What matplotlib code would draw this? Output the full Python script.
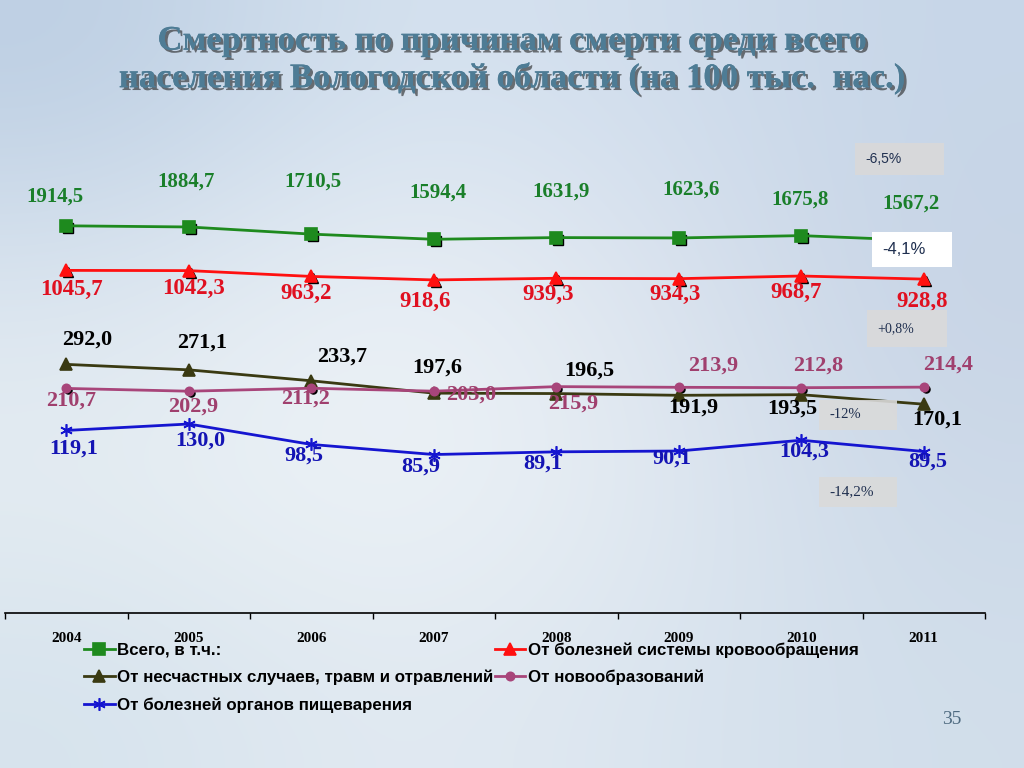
import numpy as np
import matplotlib
matplotlib.use("Agg")
import matplotlib.pyplot as plt
from matplotlib.transforms import offset_copy
import matplotlib.patheffects as pe

years = ["2004", "2005", "2006", "2007", "2008", "2009", "2010", "2011"]
total = [1914.5, 1884.7, 1710.5, 1594.4, 1631.9, 1623.6, 1675.8, 1567.2]
circulatory = [1045.7, 1042.3, 963.2, 918.6, 939.3, 934.3, 968.7, 928.8]
accidents = [292.0, 271.1, 233.7, 197.6, 196.5, 191.9, 193.5, 170.1]
neoplasms = [210.7, 202.9, 211.2, 203.0, 215.9, 213.9, 212.8, 214.4]
digestive = [119.1, 130.0, 98.5, 85.9, 89.1, 90.1, 104.3, 89.5]

names = ["Всего, в т.ч.:", "От несчастных случаев, травм и отравлений",
         "От болезней органов пищеварения", "От болезней системы кровообращения",
         "От новообразований"]
title = "Смертность по причинам смерти среди всего\nнаселения Вологодской области (на 100 тыс.  нас.)"
changes = ["-6,5%", "-4,1%", "+0,8%", "-12%", "-14,2%"]

# label offsets in pixels (layout only)
off_total = [(-11, 29), (-3, 45), (2, 53), (4, 47), (5, 46), (12, 48), (-1, 36), (-13, 37)]
off_circ = [(5, -19), (5, -18), (-5, -17), (-9, -22), (-8, -16), (-4, -16), (-5, -16), (-2, -22)]
off_acc = [(21, 25), (13, 27), (31, 24), (4, 26), (33, 23), (15, -12), (-9, -14), (14, -15)]
off_neo = [(5, -12), (4, -15), (-6, -10), (37, -3), (17, -17), (34, 22), (17, 22), (24, 23)]
off_dig = [(7, -18), (12, -17), (-7, -11), (-13, -12), (-13, -12), (-7, -8), (3, -11), (4, -10)]

W, H = 1024, 768
fig = plt.figure(figsize=(W / 100, H / 100), dpi=100)

# background gradient
bg = fig.add_axes([0, 0, 1, 1], zorder=-10)
cols = np.array([
    [[0.74, 0.81, 0.89], [0.84, 0.89, 0.94], [0.82, 0.87, 0.93], [0.78, 0.84, 0.91]],
    [[0.86, 0.90, 0.94], [0.93, 0.95, 0.97], [0.87, 0.90, 0.94], [0.78, 0.83, 0.90]],
    [[0.90, 0.93, 0.95], [0.94, 0.96, 0.97], [0.89, 0.92, 0.95], [0.80, 0.85, 0.91]],
    [[0.84, 0.89, 0.93], [0.89, 0.92, 0.95], [0.86, 0.90, 0.94], [0.82, 0.87, 0.92]],
])
bg.imshow(cols, aspect="auto", interpolation="bicubic", extent=[0, 1, 0, 1])
bg.set_axis_off()

def fx(x):
    return x / W

def fy(y):
    return 1 - y / H

ax = fig.add_axes([fx(5), fy(613), fx(985) - fx(5), fy(104) - fy(613)])
ax.patch.set_alpha(0)
ax.set_yscale("log")
ax.set_ylim(10, 10000)
ax.set_xlim(-0.5, len(years) - 0.5)
for s in ["top", "right", "left"]:
    ax.spines[s].set_visible(False)
ax.spines["bottom"].set_color("black")
ax.spines["bottom"].set_linewidth(1.2)
ax.set_yticks([])
ax.yaxis.set_minor_locator(matplotlib.ticker.NullLocator())
x = np.arange(len(years))
ax.set_xticks(x)
ax.set_xticklabels(years, fontfamily="Liberation Serif", fontweight="bold", fontsize=11)
ax.tick_params(axis="x", which="major", length=0, pad=14)
ax.set_xticks(np.arange(-0.5, len(years)), minor=True)
ax.tick_params(axis="x", which="minor", length=4, direction="out", width=1)

shadow = offset_copy(ax.transData, fig=fig, x=2, y=-2, units="dots")

series = [
    (total, "#1E8A1E", "s", 8, "#1A7F2A", off_total, 15, True),
    (accidents, "#3A3A12", "^", 8, "black", off_acc, 16, False),
    (digestive, "#1515D0", (6, 2, 0), 9, "#1414B4", off_dig, 16, False),
    (circulatory, "#FF1010", "^", 9, "#E01020", off_circ, 16.5, True),
    (neoplasms, "#A8457A", "o", 6, "#A0406E", off_neo, 16, True),
]

handles = []
for (vals, col, mk, ms, lc, offs, fs, shad), nm in zip(series, names):
    if shad:
        ax.plot(x, vals, linestyle="none", marker=mk, markersize=ms * 0.85,
                color="black", transform=shadow, zorder=2)
    ln, = ax.plot(x, vals, color=col, lw=2, marker=mk, markersize=ms,
                  markeredgewidth=1.2, zorder=3, label=nm)
    handles.append(ln)
    for xi, v, (dx, dy) in zip(x, vals, offs):
        ax.annotate(f"{v:.1f}".replace(".", ","), (xi, v), xytext=(dx, dy),
                    textcoords="offset pixels", ha="center", va="center",
                    fontfamily="Liberation Serif", fontweight="bold",
                    fontsize=fs, color=lc, zorder=4)

# legend
fig.legend(handles=handles, loc="upper left", bbox_to_anchor=(fx(84), fy(642)),
           ncol=2, frameon=False, prop={"family": "Liberation Sans", "weight": "bold", "size": 12.2},
           handlelength=1.8, handletextpad=0.15, columnspacing=0.1, labelspacing=0.72,
           borderaxespad=0, borderpad=0)

# change boxes
def box(x0, y0, x1, y1, txt, face, family, size, alpha):
    r = plt.Rectangle((fx(x0), fy(y1)), fx(x1) - fx(x0), fy(y0) - fy(y1),
                      transform=fig.transFigure, facecolor=face, edgecolor="none",
                      alpha=alpha, zorder=5)
    fig.add_artist(r)
    fig.text(fx(x0 + 10), (fy(y0) + fy(y1)) / 2, txt, ha="left", va="center",
             fontfamily=family, fontsize=size, color="#1F2F4F", zorder=6)

box(855, 143, 944, 175, changes[0], "#D9D9D9", "Liberation Sans", 10, 0.9)
box(872, 232, 952, 267, changes[1], "white", "Liberation Sans", 12, 1.0)
box(867, 310, 947, 347, changes[2], "#DADADA", "Liberation Serif", 10, 0.9)
box(819, 400, 897, 430, changes[3], "#DADADA", "Liberation Serif", 10.5, 0.9)
box(819, 477, 897, 507, changes[4], "#DADADA", "Liberation Serif", 11, 0.9)

# title
fig.text(0.5, fy(60), title, ha="center", va="center", fontfamily="Liberation Serif",
         fontweight="bold", fontsize=25, color="#4E7C95", linespacing=1.15,
         path_effects=[pe.withSimplePatchShadow(offset=(2, -2), shadow_rgbFace="#202020", alpha=0.6),
                       pe.Normal()])

fig.text(fx(952), fy(719), "35", ha="center", va="center", fontfamily="Liberation Serif",
         fontsize=14, color="#4E6A80")

fig.savefig("out.png", dpi=100)
